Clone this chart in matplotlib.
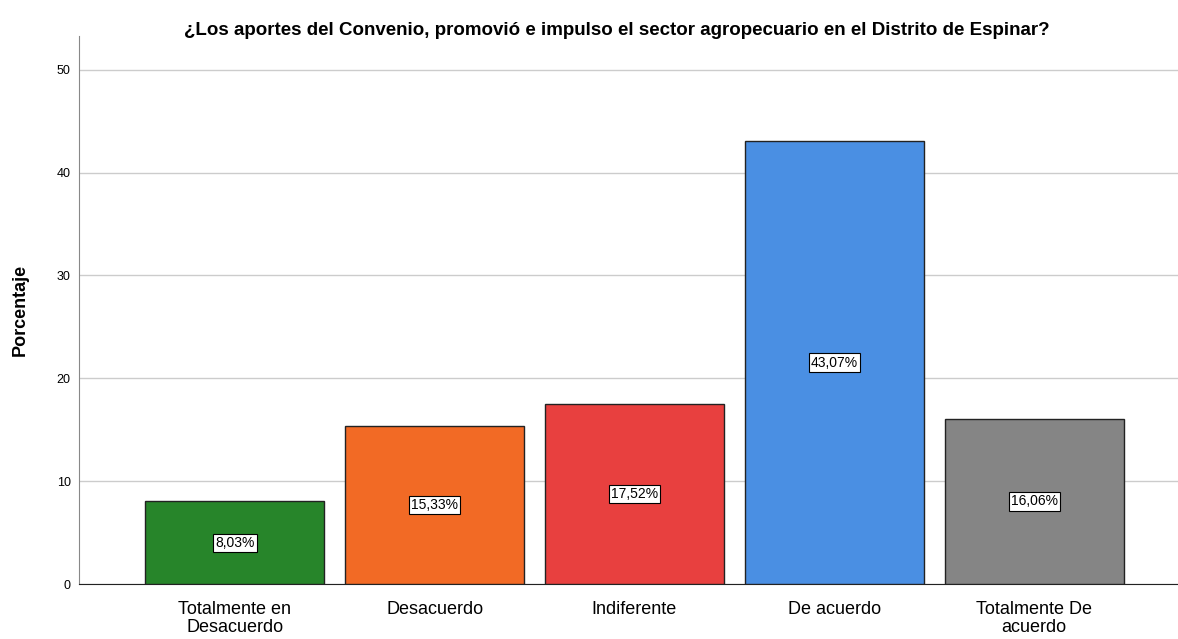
import matplotlib
matplotlib.use("Agg")
import matplotlib.pyplot as plt

categories = ["Totalmente en\nDesacuerdo", "Desacuerdo", "Indiferente", "De acuerdo", "Totalmente De\nacuerdo"]
values = [8.03, 15.33, 17.52, 43.07, 16.06]
labels = ["8,03%", "15,33%", "17,52%", "43,07%", "16,06%"]
colors = ["#27852a", "#f26a25", "#e8403f", "#4a8fe3", "#858585"]
yticks = [0, 10, 20, 30, 40, 50]

plt.rcParams['font.family'] = ['Liberation Sans', 'DejaVu Sans']
fig = plt.figure(figsize=(11.78, 6.39), dpi=100)
ax = fig.add_axes([0.067, 0.086, 0.933, 0.858])
x = list(range(len(categories)))
ax.bar(x, values, width=0.895, color=colors, edgecolor="#222222", linewidth=1.0, zorder=3)
for xi, v, lab in zip(x, values, labels):
    ax.text(xi, v / 2, lab, ha="center", va="center", fontsize=10, zorder=4,
            bbox=dict(boxstyle="square,pad=0.15", facecolor="white", edgecolor="black", linewidth=0.8))
ax.set_xlim(-0.78, 4.72)
ax.set_ylim(0, 53.3)
ax.set_yticks(yticks)
ax.set_yticklabels([str(t) for t in yticks], fontsize=9)
ax.set_xticks(x)
ax.set_xticklabels(categories, fontsize=13, linespacing=1.1)
ax.tick_params(axis="both", length=0)
ax.tick_params(axis="y", pad=6)
ax.tick_params(axis="x", pad=12)
ax.yaxis.grid(True, color="#cccccc", linewidth=1.0, zorder=0)
ax.set_axisbelow(True)
for s in ["top", "right"]:
    ax.spines[s].set_visible(False)
ax.spines["left"].set_color("#888888")
ax.spines["bottom"].set_color("#222222")
ax.set_ylabel("Porcentaje", fontsize=13, fontweight="bold", labelpad=20)
fig.text(0.524, 0.946, "¿Los aportes del Convenio, promovió e impulso el sector agropecuario en el Distrito de Espinar?",
         ha="center", va="baseline", fontsize=13.5, fontweight="bold")
fig.savefig("out.png", dpi=100)
